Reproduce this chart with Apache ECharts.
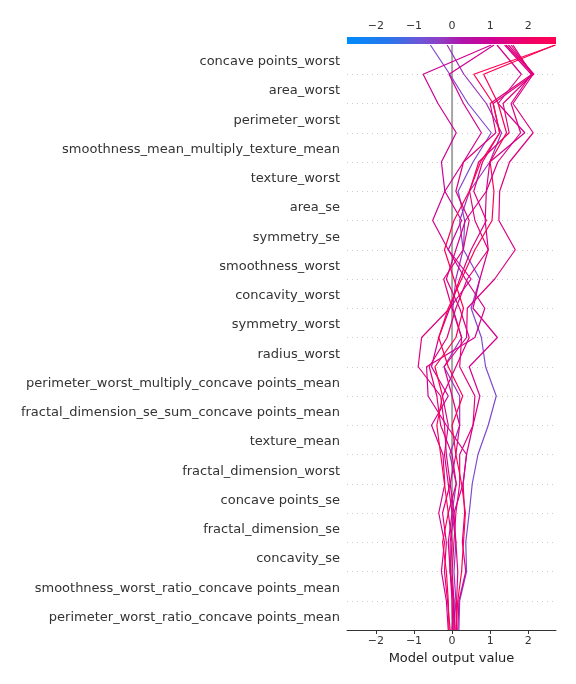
<!DOCTYPE html>
<html><head><meta charset="utf-8">
<script src="https://cdn.jsdelivr.net/npm/echarts@6/dist/echarts.min.js"></script>
<style>html,body{margin:0;padding:0;background:#fff}#c{width:576px;height:684px}</style>
</head><body><div id="c"></div>
<script>
// Feature names, top to bottom
const features = [
  "concave points_worst","area_worst","perimeter_worst","smoothness_mean_multiply_texture_mean",
  "texture_worst","area_se","symmetry_se","smoothness_worst","concavity_worst","symmetry_worst",
  "radius_worst","perimeter_worst_multiply_concave points_mean","fractal_dimension_se_sum_concave points_mean",
  "texture_mean","fractal_dimension_worst","concave points_se","fractal_dimension_se","concavity_se",
  "smoothness_worst_ratio_concave points_mean","perimeter_worst_ratio_concave points_mean"
];
const baseValue = 0;
const xMin = -2.76, xMax = 2.73;
const xTicks = [-2, -1, 0, 1, 2];
// cumulative model output per observation, from top (final output) down to bottom (start)
const obs01 = [-0.57,-0.06,0.42,1.03,0.55,0.16,0.33,0.30,0.73,0.50,0.77,0.88,1.16,0.95,0.68,0.53,0.45,0.36,0.38,0.20,0.18];
const obs02 = [-0.13,0.31,0.90,1.30,0.99,0.46,0.20,0.29,0.10,0.02,0.25,-0.21,0.20,0.20,-0.06,0.11,0.00,0.10,0.05,0.10,0.05];
const obs03 = [1.03,-0.76,-0.37,0.11,-0.28,-0.19,0.25,-0.10,0.50,-0.06,-0.35,-0.54,-0.10,-0.54,-0.24,-0.19,-0.35,-0.20,-0.28,-0.15,-0.10];
const obs04 = [1.10,-0.08,0.30,0.77,0.30,-0.19,-0.51,-0.10,0.35,0.86,0.60,-0.67,-0.63,-0.15,0.38,0.29,0.05,-0.05,-0.05,0.05,0.00];
const obs05 = [1.18,1.82,1.21,1.91,0.99,0.90,0.87,0.95,0.73,0.55,1.19,0.45,0.73,0.55,0.38,0.29,0.33,0.27,0.36,0.18,0.15];
const obs06 = [1.42,2.13,1.60,2.13,1.51,1.25,1.23,1.66,1.12,0.40,0.38,-0.21,0.00,0.20,0.10,-0.05,0.05,0.10,0.15,0.12,0.12];
const obs07 = [1.48,2.15,1.08,1.25,0.80,0.57,0.90,0.50,0.20,-0.06,-0.80,-0.89,-0.30,-0.20,-0.15,-0.05,-0.25,-0.15,-0.20,-0.12,-0.05];
const obs08 = [1.55,2.12,1.34,1.50,0.70,0.46,0.60,0.95,0.40,0.10,-0.13,-0.60,-0.40,-0.30,0.00,0.11,-0.10,0.00,-0.05,0.00,0.02];
const obs09 = [1.60,2.10,1.00,1.15,0.30,0.10,0.45,0.29,-0.22,0.00,0.25,0.20,0.60,0.55,0.20,0.20,0.10,0.05,0.00,0.05,0.08];
const obs10 = [2.72,0.57,1.08,1.25,0.75,0.45,0.05,-0.20,0.05,0.30,0.10,-0.45,-0.25,-0.40,-0.30,-0.20,-0.10,-0.25,-0.15,-0.10,-0.08];
const obs11 = [2.70,0.83,1.21,1.43,1.00,1.10,1.05,0.60,0.25,-0.10,-0.35,-0.10,0.28,0.00,0.10,0.25,0.35,0.30,0.25,0.15,0.10];
const obs12 = [1.38,2.08,1.55,1.80,1.20,0.90,0.35,0.10,-0.15,0.20,0.45,0.10,-0.25,-0.10,-0.20,-0.10,0.00,-0.10,-0.05,0.03,0.05];
const observations = [obs01,obs02,obs03,obs04,obs05,obs06,obs07,obs08,obs09,obs10,obs11,obs12];

// colormap (blue -> purple -> red)
const cmapStops = [
  [0.00,[0,139,251]],[0.20,[40,118,235]],[0.35,[110,85,215]],[0.45,[145,60,195]],
  [0.55,[175,20,170]],[0.70,[210,0,145]],[0.85,[238,0,108]],[1.00,[255,0,82]]
];
function cmap(t){
  t = Math.max(0, Math.min(1, t));
  for (let i = 1; i < cmapStops.length; i++) {
    if (t <= cmapStops[i][0]) {
      const [t0,c0] = cmapStops[i-1], [t1,c1] = cmapStops[i];
      const f = (t - t0) / (t1 - t0);
      const c = c0.map((v,k)=>Math.round(v + (c1[k]-v)*f));
      return 'rgb(' + c.join(',') + ')';
    }
  }
  return 'rgb(255,0,82)';
}
const minus = v => String(v).replace('-', '\u2212');
const n = features.length;
const yCats = features.slice().reverse();

const series = [];
series.push({
  type: 'line', xAxisIndex: 0, yAxisIndex: 0, data: [[baseValue,0],[baseValue,n]],
  symbol: 'none', lineStyle: {color: '#a6a6a6', width: 2}, z: 1, silent: true
});
observations.forEach(o => {
  const data = o.map((v, i) => [v, n - i]);
  series.push({
    type: 'line', xAxisIndex: 0, yAxisIndex: 0, data: data, symbol: 'none',
    lineStyle: {color: cmap((o[0]-xMin)/(xMax-xMin)), width: 1.2}, z: 3, silent: true
  });
});
// colorbar
series.push({
  type: 'line', xAxisIndex: 1, yAxisIndex: 2, data: [[xMin,1],[xMax,1]], symbol: 'none',
  lineStyle: {width: 0}, silent: true,
  areaStyle: {opacity: 1, color: new echarts.graphic.LinearGradient(0,0,1,0,
    cmapStops.map(s => ({offset: s[0], color: 'rgb(' + s[1].join(',') + ')'})))}
});

const font = 'DejaVu Sans';
const chart = echarts.init(document.getElementById('c'), null, {renderer: 'canvas'});
chart.setOption({
  animation: false,
  backgroundColor: '#ffffff',
  grid: [
    {left: 347, right: 20, top: 45, bottom: 54},
    {left: 347, right: 20, top: 37, height: 7},
    {left: 347, right: 20, top: 47, bottom: 52}
  ],
  xAxis: [
    {gridIndex: 0, type: 'value', min: xMin, max: xMax, position: 'bottom',
     axisLine: {show: true, lineStyle: {color: '#333', width: 1}},
     axisTick: {show: true, length: 4, lineStyle: {color: '#333'}, customValues: xTicks},
     axisLabel: {color: '#333', fontSize: 11, fontFamily: font, margin: 6, customValues: xTicks, formatter: minus},
     splitLine: {show: false},
     name: 'Model output value', nameLocation: 'middle', nameGap: 22,
     nameTextStyle: {color: '#222', fontSize: 13, fontFamily: font}},
    {gridIndex: 1, type: 'value', min: xMin, max: xMax, position: 'top',
     axisLine: {show: false},
     axisTick: {show: true, length: 3, lineStyle: {color: '#333'}, customValues: xTicks},
     axisLabel: {color: '#333', fontSize: 11, fontFamily: font, margin: 5, customValues: xTicks, formatter: minus},
     splitLine: {show: false}},
    {gridIndex: 2, type: 'value', min: xMin, max: xMax, show: false}
  ],
  yAxis: [
    {gridIndex: 0, type: 'value', min: 0, max: n, interval: 1,
     axisLine: {show: false}, axisTick: {show: false}, axisLabel: {show: false},
     splitLine: {show: true, showMinLine: false, showMaxLine: false,
       lineStyle: {color: '#cccccc', width: 1, type: [1, 4]}}},
    {gridIndex: 1, type: 'value', min: 0, max: 1, show: false},
    {gridIndex: 2, type: 'category', data: yCats, position: 'left',
     axisLine: {show: false}, axisTick: {show: false}, splitLine: {show: false},
     axisLabel: {color: '#333', fontSize: 13, fontFamily: font, margin: 7, interval: 0}}
  ],
  series: series.map(s => s.yAxisIndex === 2 ? Object.assign(s, {yAxisIndex: 1}) : s)
});
</script></body></html>
